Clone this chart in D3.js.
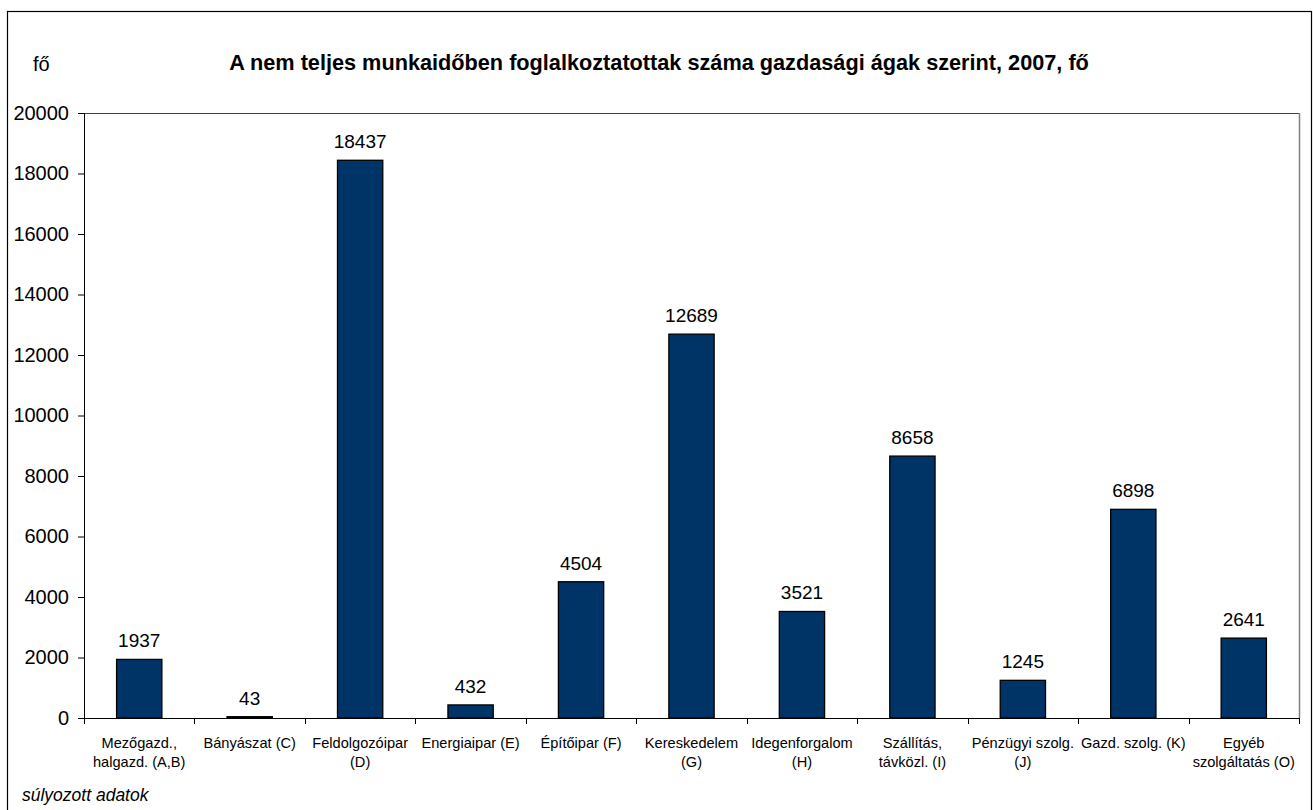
<!DOCTYPE html>
<html>
<head>
<meta charset="utf-8">
<script src="https://cdn.jsdelivr.net/npm/d3@7"></script>
<style>
  body { margin: 0; background: #fff; }
  svg { display: block; font-family: "Liberation Sans", Arial, sans-serif; }
</style>
</head>
<body>
<svg id="chart" width="1313" height="810"></svg>
<script>
const categories = [
  ["Mezőgazd.,", "halgazd. (A,B)"],
  ["Bányászat (C)"],
  ["Feldolgozóipar", "(D)"],
  ["Energiaipar (E)"],
  ["Építőipar (F)"],
  ["Kereskedelem", "(G)"],
  ["Idegenforgalom", "(H)"],
  ["Szállítás,", "távközl. (I)"],
  ["Pénzügyi szolg.", "(J)"],
  ["Gazd. szolg. (K)"],
  ["Egyéb", "szolgáltatás (O)"]
];
const values = [1937, 43, 18437, 432, 4504, 12689, 3521, 8658, 1245, 6898, 2641];
const yTicks = [0, 2000, 4000, 6000, 8000, 10000, 12000, 14000, 16000, 18000, 20000];
const title = "A nem teljes munkaidőben foglalkoztatottak száma gazdasági ágak szerint, 2007, fő";
const unitLabel = "fő";
const footnote = "súlyozott adatok";

const svg = d3.select("#chart");
const pL = 84, pR = 1299, pT = 113, pB = 718;

// outer border
svg.append("rect").attr("x", 7.5).attr("y", 11.5).attr("width", 1304).attr("height", 820)
  .attr("fill", "none").attr("stroke", "#000").attr("stroke-width", 1.2);

const idx = categories.map((d, i) => i);
const x = d3.scaleBand().domain(idx).range([pL, pR]).paddingInner(0.59).paddingOuter(0.295);
const xb = d3.scaleBand().domain(idx).range([pL, pR]).padding(0);
const y = d3.scaleLinear().domain([0, 20000]).range([pB, pT]);

// plot area border (top + right)
svg.append("line").attr("x1", pL).attr("x2", pR).attr("y1", pT + 0.5).attr("y2", pT + 0.5)
  .attr("stroke", "#404040").attr("stroke-width", 1);
svg.append("line").attr("x1", pR + 0.5).attr("x2", pR + 0.5).attr("y1", pT).attr("y2", pB)
  .attr("stroke", "#808080").attr("stroke-width", 1.5);

// bars
svg.selectAll("rect.bar").data(values).enter().append("rect")
  .attr("class", "bar")
  .attr("x", (d, i) => x(i))
  .attr("width", x.bandwidth())
  .attr("y", d => y(d))
  .attr("height", d => pB - y(d))
  .attr("fill", "#003366").attr("stroke", "#000").attr("stroke-width", 1.3);

// value labels
svg.selectAll("text.val").data(values).enter().append("text")
  .attr("class", "val")
  .attr("x", (d, i) => x(i) + x.bandwidth() / 2)
  .attr("y", d => y(d) - 12)
  .attr("text-anchor", "middle").attr("font-size", 19).attr("fill", "#000")
  .text(d => d);

// y axis
const yAxis = d3.axisLeft(y).tickValues(yTicks).tickSize(6).tickPadding(9).tickFormat(d3.format("d"));
const gy = svg.append("g").attr("transform", `translate(${pL},0)`).call(yAxis);
gy.select(".domain").attr("stroke", "#000").attr("d", `M0.5,${pT}V${pB}`);
gy.selectAll(".tick line").attr("stroke", "#000");
gy.selectAll(".tick text").attr("font-size", 20).attr("font-family", "Liberation Sans, Arial, sans-serif").attr("fill", "#000");

// x axis
const xAxisG = svg.append("g").attr("transform", `translate(0,${pB})`);
xAxisG.append("line").attr("x1", pL).attr("x2", pR).attr("y1", 0.5).attr("y2", 0.5).attr("stroke", "#000");
const bounds = idx.map(i => xb(i)).concat([pR]);
xAxisG.selectAll("line.tk").data(bounds).enter().append("line")
  .attr("class", "tk")
  .attr("x1", d => Math.round(d) + 0.5).attr("x2", d => Math.round(d) + 0.5)
  .attr("y1", 0).attr("y2", 6).attr("stroke", "#000");

// category labels
const catG = svg.selectAll("text.cat").data(categories).enter().append("text")
  .attr("class", "cat")
  .attr("text-anchor", "middle").attr("font-size", 14.6).attr("fill", "#000");
catG.each(function(lines, i) {
  const t = d3.select(this);
  lines.forEach((ln, j) => {
    t.append("tspan").attr("x", xb(i) + xb.bandwidth() / 2).attr("y", 748 + j * 19).text(ln);
  });
});

// title
svg.append("text").attr("x", 659).attr("y", 70).attr("text-anchor", "middle")
  .attr("font-size", 21.7).attr("font-weight", "bold").text(title);
svg.append("text").attr("x", 33).attr("y", 71).attr("font-size", 20).text(unitLabel);
svg.append("text").attr("x", 22).attr("y", 801).attr("font-size", 17.5).attr("font-style", "italic").text(footnote);
</script>
</body>
</html>
